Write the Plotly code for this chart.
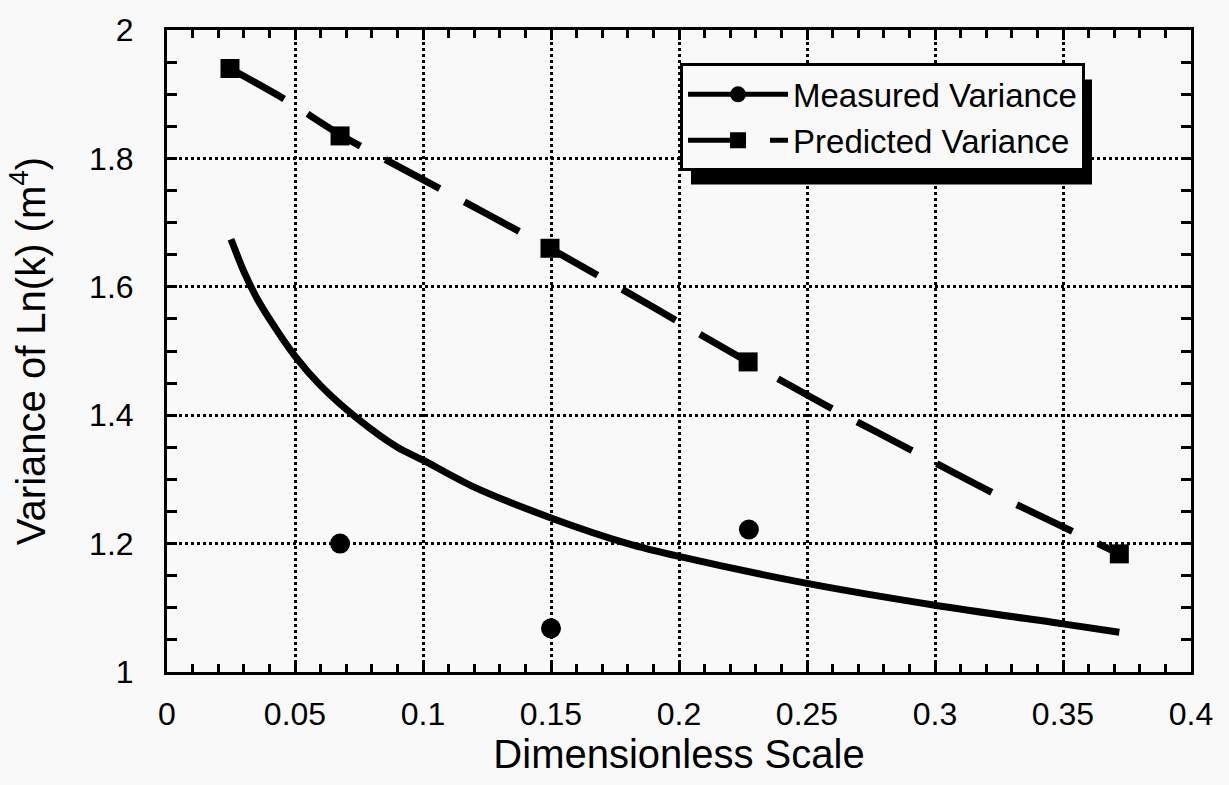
import plotly.graph_objects as go

# ---- data ----
measured_x = [0.0676, 0.150, 0.2273]
measured_y = [1.200, 1.068, 1.222]

predicted_x = [0.0246, 0.0676, 0.1496, 0.227, 0.372]
predicted_y = [1.940, 1.835, 1.660, 1.483, 1.184]

measured_fit_x = [0.025, 0.030, 0.035, 0.040, 0.050, 0.060, 0.074, 0.090, 0.100,
                  0.120, 0.150, 0.180, 0.200, 0.250, 0.300, 0.350, 0.372]
measured_fit_y = [1.674, 1.624, 1.583, 1.550, 1.492, 1.446, 1.396, 1.350, 1.330,
                  1.288, 1.240, 1.200, 1.180, 1.138, 1.104, 1.075, 1.062]

predicted_fit_x = [0.0246, 0.046, 0.0676, 0.100, 0.1496, 0.190, 0.227, 0.258,
                   0.280, 0.300, 0.325, 0.348, 0.372]
predicted_fit_y = [1.940, 1.892, 1.837, 1.767, 1.660, 1.568, 1.483, 1.414,
                   1.368, 1.326, 1.274, 1.230, 1.184]

x_tick_vals = [0, 0.05, 0.1, 0.15, 0.2, 0.25, 0.3, 0.35, 0.4]
x_tick_text = ["0", "0.05", "0.1", "0.15", "0.2", "0.25", "0.3", "0.35", "0.4"]
y_tick_vals = [1, 1.2, 1.4, 1.6, 1.8, 2]
y_tick_text = ["1", "1.2", "1.4", "1.6", "1.8", "2"]

FONT = "Liberation Sans, Arial, Helvetica, sans-serif"
BG = "#f9f9f9"
DASH = "62px,28px"

fig = go.Figure()

# fitted curves
fig.add_trace(go.Scatter(x=measured_fit_x, y=measured_fit_y, mode="lines",
                         line=dict(color="black", width=7, shape="spline", smoothing=0.8),
                         showlegend=False, hoverinfo="skip"))
fig.add_trace(go.Scatter(x=predicted_fit_x, y=predicted_fit_y, mode="lines",
                         line=dict(color="black", width=7, dash=DASH, shape="spline", smoothing=0.8),
                         showlegend=False, hoverinfo="skip"))
# data markers
fig.add_trace(go.Scatter(x=measured_x, y=measured_y, mode="markers",
                         marker=dict(symbol="circle", size=20, color="black"),
                         showlegend=False))
fig.add_trace(go.Scatter(x=predicted_x, y=predicted_y, mode="markers",
                         marker=dict(symbol="square", size=19, color="black"),
                         showlegend=False))
# legend entries
fig.add_trace(go.Scatter(x=[None], y=[None], mode="lines+markers",
                         name="Measured Variance",
                         line=dict(color="black", width=5),
                         marker=dict(symbol="circle", size=18, color="black")))
fig.add_trace(go.Scatter(x=[None], y=[None], mode="lines+markers",
                         name="Predicted Variance",
                         line=dict(color="black", width=5, dash="58px,24px"),
                         marker=dict(symbol="square", size=17, color="black")))

axis_common = dict(
    showline=True, linecolor="black", linewidth=3, mirror="ticks",
    ticks="inside", ticklen=10, tickwidth=3, tickcolor="black",
    showgrid=True, gridcolor="black", gridwidth=2.5, griddash="dot",
    zeroline=False,
    tickfont=dict(family=FONT, size=32, color="black"),
)

fig.update_xaxes(
    range=[0, 0.4], tickmode="array", tickvals=x_tick_vals, ticktext=x_tick_text,
    minor=dict(dtick=0.01, tick0=0, ticks="inside", ticklen=8, tickwidth=3,
               tickcolor="black", showgrid=False),
    title=dict(text="Dimensionless Scale", font=dict(family=FONT, size=40, color="black"),
               standoff=8),
    ticklabelstandoff=12,
    **axis_common,
)
fig.update_yaxes(
    range=[1, 2], tickmode="array", tickvals=y_tick_vals, ticktext=y_tick_text,
    minor=dict(dtick=0.05, tick0=1, ticks="inside", ticklen=10, tickwidth=3,
               tickcolor="black", showgrid=False),
    title=dict(text="Variance of Ln(k) (m<sup>4</sup>)",
               font=dict(family=FONT, size=40, color="black"), standoff=32),
    ticklabelstandoff=24,
    **axis_common,
)

# drop shadow behind the legend box (paper coordinates)
fig.add_shape(type="rect", xref="paper", yref="paper",
              x0=0.5117, x1=0.9033, y0=0.7593, y1=0.9228,
              fillcolor="black", line=dict(width=0), layer="above")

fig.update_layout(
    width=1229, height=785, autosize=False,
    margin=dict(l=167, r=38, t=24, b=113, pad=0),
    paper_bgcolor=BG, plot_bgcolor=BG,
    font=dict(family=FONT, color="black"),
    legend=dict(x=0.501, y=0.948, xanchor="left", yanchor="top",
                bgcolor=BG, bordercolor="black", borderwidth=3,
                font=dict(family=FONT, size=33, color="black"),
                itemwidth=100, tracegroupgap=0),
)

fig.write_html("out.html")
